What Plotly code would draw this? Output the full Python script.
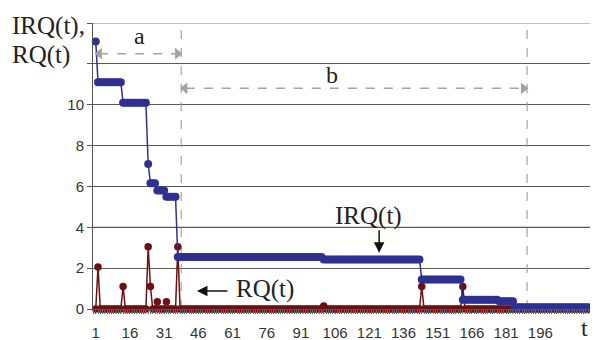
import plotly.graph_objects as go

# ---- data ----
t_values = list(range(1, 221))
irq_levels = [13.1, 11.1, 10.1, 7.1, 6.15, 5.8, 5.5, 2.55, 2.42, 1.45, 0.45, 0.38, 0.08]
irq_run_lengths = [1, 11, 11, 1, 3, 4, 5, 64, 43, 18, 16, 7, 36]
rq_spike_t = [2, 13, 24, 25, 28, 32, 37, 101, 144, 162]
rq_spike_values = [2.05, 1.1, 3.05, 1.1, 0.35, 0.35, 3.05, 0.15, 1.1, 1.1]
x_tick_values = [1, 16, 31, 46, 61, 76, 91, 106, 121, 136, 151, 166, 181, 196]
y_tick_values = [0, 2, 4, 6, 8, 10, 12, 14]
y_tick_labels = ["0", "2", "4", "6", "8", "10", "", ""]
marker_a = [38.5]
marker_b = [190.2]

irq = []
for lvl, n in zip(irq_levels, irq_run_lengths):
    irq += [lvl] * n
rq = [0.0] * len(t_values)
for tt, v in zip(rq_spike_t, rq_spike_values):
    rq[tt - 1] = v

BLUE = "#2E3192"
RED = "#6E0F12"
GREY = "#A3A3A3"
SERIF = "Liberation Serif, Times New Roman, serif"
SANS = "Liberation Sans, Arial, sans-serif"

# the page adds an 8px body margin; the figure is sized to fit the window
PL, PT, PW, PH = 93, 23, 505, 286   # plot box in window pixels


def px(xp):
    return (xp - PL) / PW


def py(yp):
    return (PT + PH - yp) / PH


fig = go.Figure()
fig.add_trace(go.Scatter(x=t_values, y=rq, mode="lines+markers",
                         line=dict(color=RED, width=1.5),
                         marker=dict(color=RED, size=7.5), cliponaxis=False,
                         showlegend=False))
fig.add_trace(go.Scatter(x=t_values, y=irq, mode="lines+markers",
                         line=dict(color=BLUE, width=1.5),
                         marker=dict(color=BLUE, size=8), cliponaxis=False,
                         showlegend=False))

shapes = []
for xv in marker_a + marker_b:
    shapes.append(dict(type="line", x0=xv, x1=xv, y0=0, y1=14, xref="x", yref="y",
                       line=dict(color=GREY, width=1.2, dash="dash"), layer="between"))
# double arrows a and b
for x0, x1, yv in [(2.5, marker_a[0] - 2.0, 12.5),
                   (marker_a[0] + 2.0, marker_b[0] - 2.0, 10.8)]:
    shapes.append(dict(type="line", x0=x0, x1=x1, y0=yv, y1=yv, xref="x", yref="y",
                       line=dict(color=GREY, width=1.5, dash="dash")))
# lighter gridlines
for yv in [4, 14]:
    shapes.append(dict(type="line", x0=0, x1=1, xref="paper", y0=yv, y1=yv, yref="y",
                       line=dict(color="#AAAAAA", width=1.5), layer="between"))

# arrowheads for a and b
fig.add_trace(go.Scatter(x=[2.6, marker_a[0] - 1.6, marker_a[0] + 1.6, marker_b[0] - 1.6],
                         y=[12.5, 12.5, 10.8, 10.8], mode="markers",
                         marker=dict(symbol=["triangle-left", "triangle-right",
                                             "triangle-left", "triangle-right"],
                                     size=10, color=GREY),
                         showlegend=False, cliponaxis=False, hoverinfo="skip"))

TXT = "#222"
annotations = [
    dict(x=px(10), y=py(26), xref="paper", yref="paper", text="IRQ(t),", showarrow=False,
         xanchor="left", yanchor="middle", font=dict(family=SERIF, size=25, color=TXT)),
    dict(x=px(10), y=py(55), xref="paper", yref="paper", text="RQ(t)", showarrow=False,
         xanchor="left", yanchor="middle", font=dict(family=SERIF, size=25, color=TXT)),
    dict(x=20.4, y=13.35, text="a", showarrow=False, font=dict(family=SERIF, size=24, color=TXT)),
    dict(x=104.5, y=11.45, text="b", showarrow=False, font=dict(family=SERIF, size=24, color=TXT)),
    dict(x=120.5, y=4.55, text="IRQ(t)", showarrow=False, font=dict(family=SERIF, size=25, color=TXT)),
    dict(x=125.3, y=2.75, text="", showarrow=True, ax=0, ay=-24, arrowhead=2, arrowsize=1.4,
         arrowwidth=1.5, arrowcolor="#111"),
    dict(x=75.3, y=1.0, text="RQ(t)", showarrow=False, font=dict(family=SERIF, size=25, color=TXT)),
    dict(x=45.4, y=0.88, text="", showarrow=True, ax=32, ay=0, arrowhead=2, arrowsize=1.4,
         arrowwidth=1.5, arrowcolor="#111"),
    dict(x=px(584), y=py(328), xref="paper", yref="paper", text="t", showarrow=False,
         xanchor="center", yanchor="middle", font=dict(family=SERIF, size=24, color=TXT)),
]

fig.update_layout(
    width=590, height=332,
    margin=dict(l=PL - 8, r=0, t=PT - 8, b=332 - (PT - 8) - PH),
    plot_bgcolor="white", paper_bgcolor="white",
    shapes=shapes, annotations=annotations,
    xaxis=dict(range=[-0.2, 221.3], tickvals=x_tick_values, ticks="outside", ticklen=4,
               tickcolor="#555", showgrid=False, showline=True, linecolor="#555",
               zeroline=False, tickfont=dict(family=SANS, size=15, color="#333"),
               ticklabelstandoff=6, automargin=False,
               minor=dict(dtick=1, tick0=0, ticks="outside", ticklen=4, tickcolor="#666",
                          showgrid=False)),
    yaxis=dict(range=[0, 14], tickvals=y_tick_values, ticktext=y_tick_labels,
               ticks="outside", ticklen=5, tickcolor="#555", gridcolor="#5A5A5A",
               gridwidth=1, showline=True, linecolor="#555", zeroline=False,
               automargin=False, tickfont=dict(family=SANS, size=15, color="#333")),
)

fig.write_html("out.html")
